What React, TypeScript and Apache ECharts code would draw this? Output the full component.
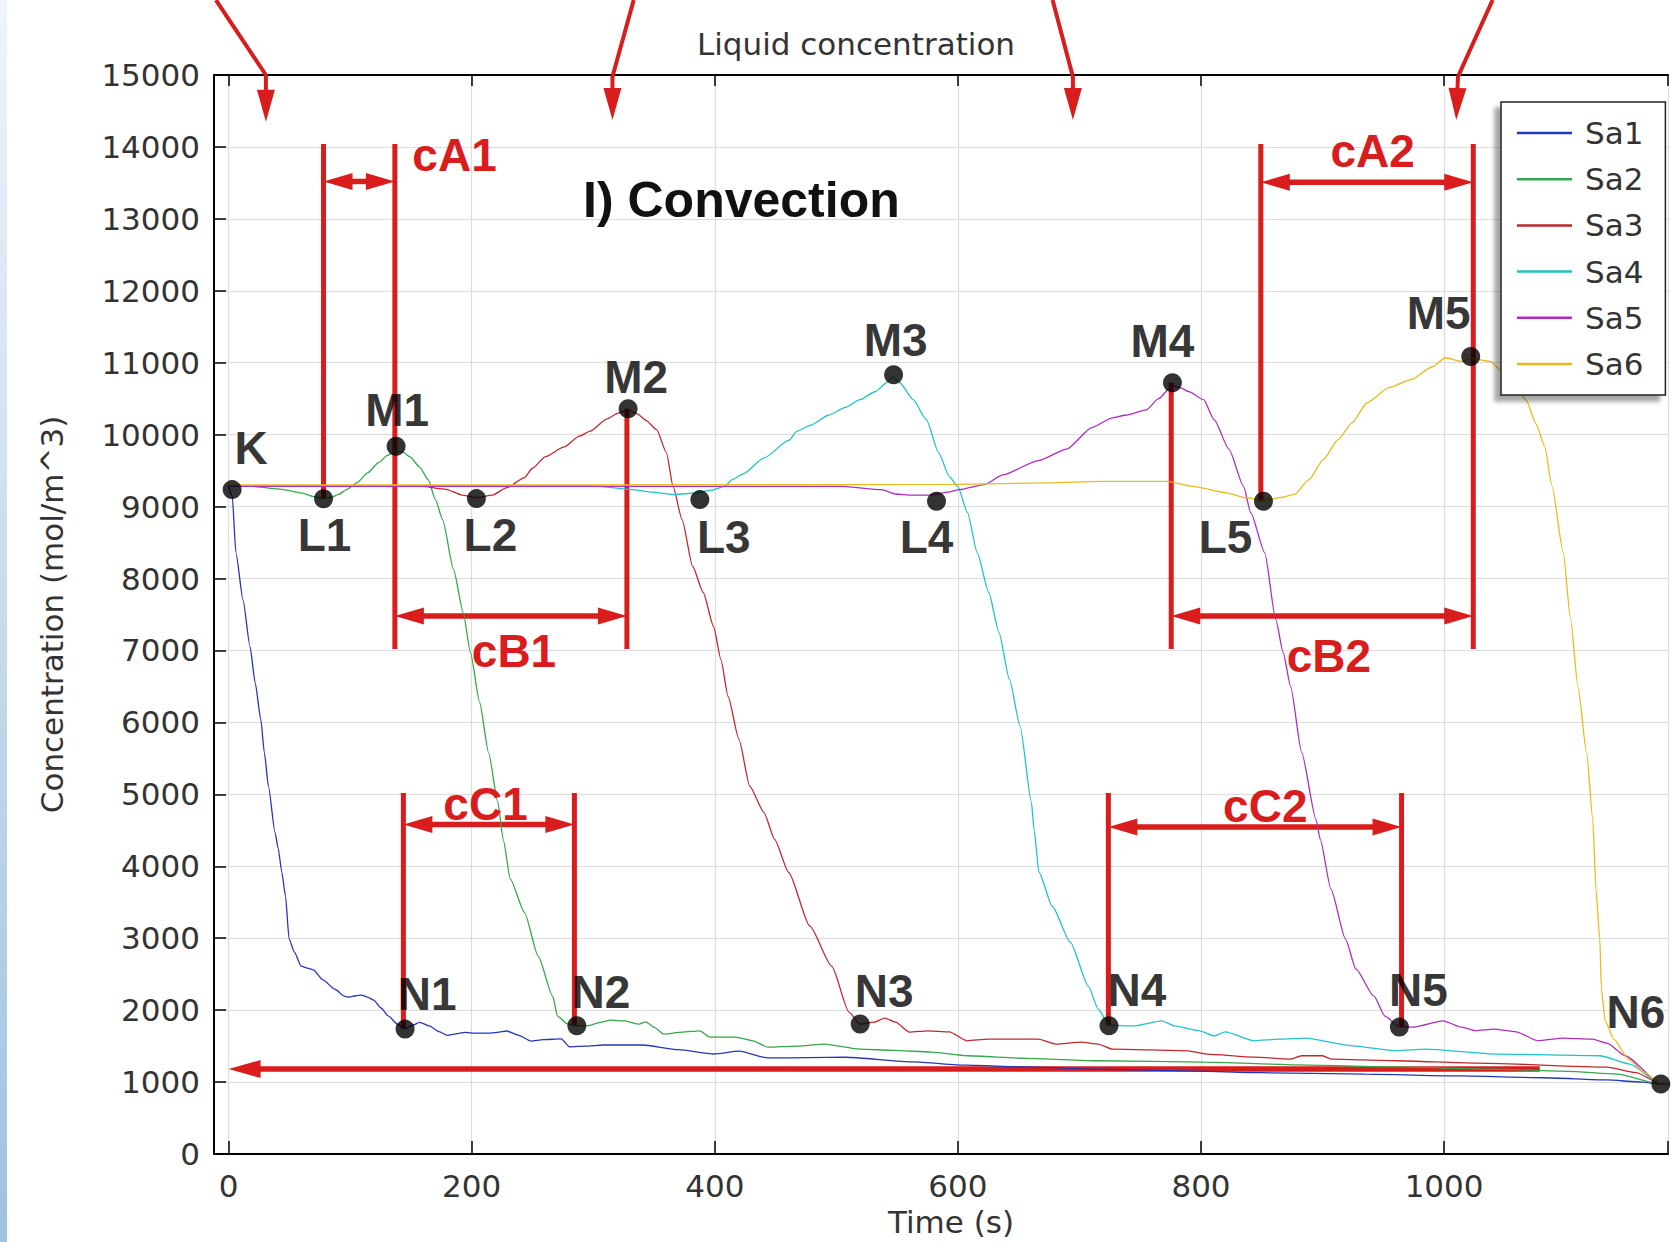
import React, { useEffect, useRef } from 'react';
import * as echarts from 'echarts';

// ---------- data (time s, concentration mol/m^3) ----------
const SERIES_NAMES = ['Sa1', 'Sa2', 'Sa3', 'Sa4', 'Sa5', 'Sa6'];

const SA1 = [
  [0, 9280], [3, 9150], [6, 8361], [11.9, 7700], [17.6, 7056], [21.9, 6550], [26.5, 6042], [29.4, 5583],
  [32.8, 5111], [38.2, 4472], [40.8, 4250], [43.8, 3917], [46.8, 3588], [49.8, 2986], [54.2, 2806], [59.7, 2611],
  [65.7, 2580], [69.7, 2560], [77.6, 2420], [87.6, 2290], [95.5, 2190], [99.5, 2180], [104.5, 2200], [109.5, 2210],
  [114.4, 2180], [119.4, 2140], [125.4, 2030], [131.3, 1920], [139.3, 1800], [145.3, 1740], [151.2, 1790], [157.2, 1830],
  [165.2, 1780], [173.1, 1700], [180.1, 1650], [187.1, 1670], [194, 1690], [204, 1680], [213.9, 1680], [220.9, 1690],
  [228.9, 1710], [238.8, 1650], [248.8, 1570], [258.7, 1590], [273.6, 1600], [280.6, 1490], [293.5, 1500], [308.5, 1515],
  [340.3, 1515], [370.1, 1450], [399, 1390], [419.9, 1430], [443.8, 1335], [477.6, 1340], [507.4, 1345], [563.2, 1280],
  [607, 1235], [656.7, 1210], [715.4, 1180], [777.3, 1160], [848.3, 1130], [934.6, 1110], [1013.7, 1085], [1081.7, 1060],
  [1133.5, 1030], [1162.9, 1000], [1178.1, 972], [1193.4, 950],
];

const SA2 = [
  [0, 9290], [19.9, 9280], [43.8, 9240], [59.7, 9190], [69.7, 9140], [77.6, 9110], [84.6, 9130], [90.5, 9170],
  [97.5, 9240], [105.5, 9330], [114.4, 9470], [123.4, 9610], [130.3, 9710], [137.3, 9770], [143.3, 9760], [149.3, 9690],
  [157.2, 9550], [164.2, 9375], [170.1, 9100], [176.1, 8820], [185.1, 8125], [193, 7530], [199, 6970], [206.5, 6280],
  [213.9, 5580], [221.5, 4890], [225.9, 4375], [231.8, 3820], [243.4, 3360], [254.7, 2750], [266.7, 2190], [270.6, 1917],
  [278.6, 1810], [286.6, 1785], [296.5, 1785], [305.5, 1830], [314, 1860], [326, 1850], [337.8, 1806], [343.3, 1838],
  [350.2, 1760], [358.2, 1667], [373.1, 1694], [387.7, 1713], [396, 1625], [416.9, 1625], [431.4, 1574], [443.4, 1486],
  [467.7, 1500], [490.2, 1528], [519.4, 1458], [547.3, 1440], [578.1, 1417], [607.5, 1366], [656.7, 1330], [715.4, 1296],
  [802.5, 1278], [878.7, 1240], [960, 1210], [1040.7, 1180], [1101.6, 1150], [1142.2, 1110], [1178.1, 972], [1193.4, 945],
];

const SA3 = [
  [0, 9290], [99.5, 9290], [159.2, 9280], [179.1, 9240], [192, 9160], [204, 9125], [216.9, 9160], [228.9, 9264],
  [243.4, 9403], [249.7, 9530], [260.7, 9694], [275.6, 9826], [288.6, 9980], [297.5, 10050], [311.4, 10220], [320.4, 10300],
  [329.3, 10340], [336.3, 10290], [343.3, 10200], [352.2, 10070], [360.2, 9750], [365.7, 9278], [373.1, 8819], [381.8, 8167],
  [390.5, 7806], [399, 7333], [405, 6875], [410.9, 6361], [419.9, 5764], [428.8, 5111], [440.4, 4750], [449.2, 4375],
  [460.7, 3917], [478.2, 3167], [496.2, 2611], [510.4, 1972], [519.4, 1806], [531.3, 1833], [539.8, 1889], [548.7, 1833],
  [560.2, 1694], [575.1, 1713], [593, 1699], [607.5, 1574], [624.9, 1597], [666.2, 1597], [680.6, 1528], [701.5, 1556],
  [715.4, 1528], [727.2, 1458], [789.5, 1435], [804.7, 1389], [844, 1347], [873.7, 1319], [882.8, 1366], [900.1, 1366],
  [906.8, 1319], [960.7, 1296], [1025.9, 1264], [1134, 1208], [1157.8, 1130], [1178.1, 975], [1193.4, 945],
];

const SA4 = [
  [0, 9290], [298.5, 9290], [332.3, 9236], [348.3, 9200], [367.2, 9167], [384.6, 9190], [398, 9230], [408, 9282],
  [414.9, 9382], [422.9, 9450], [440.8, 9678], [460.7, 9920], [467.7, 10048], [478.6, 10130], [493.5, 10270], [507.5, 10380],
  [519.4, 10486], [532.3, 10600], [541.3, 10722], [546.3, 10800], [552.2, 10722], [563.2, 10486], [574.1, 10208], [584.1, 9750],
  [593, 9417], [600, 9278], [607.9, 8917], [615.9, 8361], [625.4, 7806], [633.8, 7250], [642.4, 6597], [651.2, 5944],
  [660.5, 4889], [662.7, 4500], [666.7, 3917], [677.6, 3444], [692.5, 2944], [707.4, 2333], [715.4, 2014], [724.5, 1790],
  [745.3, 1782], [767.7, 1851], [778.3, 1782], [799.1, 1713], [810.8, 1643], [819.9, 1699], [844, 1574], [864.6, 1597],
  [885.9, 1611], [924.4, 1504], [960.7, 1435], [984.3, 1458], [1044.2, 1389], [1128, 1366], [1152.8, 1250], [1178.1, 975],
  [1193.4, 945],
];

const SA5 = [
  [0, 9280], [505, 9280], [537.3, 9236], [548.7, 9175], [562.2, 9160], [578.1, 9160], [592, 9200], [601, 9236],
  [621.9, 9306], [636.8, 9440], [666.2, 9640], [689.5, 9800], [710.4, 10100], [726.5, 10230], [737.7, 10270], [755, 10344],
  [765.1, 10500], [776.3, 10680], [783.4, 10650], [790, 10597], [802.2, 10486], [810.8, 10208], [823, 9800], [835.1, 9278],
  [840.9, 8917], [852.4, 8361], [861.5, 7431], [867.6, 6972], [873.7, 6500], [882.8, 5583], [894.6, 4653], [898.1, 4375],
  [906.9, 3681], [918.9, 2986], [927.5, 2569], [942.3, 2194], [951.4, 1917], [963, 1770], [975.2, 1764], [999.1, 1851],
  [1014.3, 1764], [1025.9, 1713], [1041.1, 1736], [1059.2, 1699], [1077.2, 1574], [1098, 1611], [1122, 1597],
  [1134, 1542], [1149.1, 1366], [1178.1, 975], [1193.4, 945],
];

const SA6 = [
  [0, 9300], [298.5, 9300], [597, 9310], [676.6, 9330], [716.4, 9350], [772.2, 9351], [793.1, 9282], [819.9, 9194],
  [838.2, 9120], [851.4, 9080], [864.6, 9125], [876.7, 9167], [888.9, 9375], [900.6, 9653], [912.8, 9931], [924.4, 10167],
  [936.6, 10444], [954.6, 10653], [972.7, 10764], [990.4, 10944], [1001, 11069], [1014.4, 11018], [1021.9, 11060],
  [1038.1, 11018], [1046.2, 10900], [1056.4, 10750], [1067.5, 10480], [1075.6, 10150], [1082.7, 9840], [1088.8, 9282],
  [1098, 8361], [1104.1, 7431], [1110.1, 6500], [1117.2, 5583], [1122.3, 4653], [1124.9, 3681], [1128.1, 2986],
  [1129.4, 2292], [1132.5, 1851], [1139.6, 1597], [1151.7, 1319], [1164.9, 1130], [1178.1, 975], [1193.4, 945],
];

const SERIES_VALUES = [SA1, SA2, SA3, SA4, SA5, SA6];

const X_TICK_LABELS = [0, 200, 400, 600, 800, 1000];

// marked points
const POINT_NAMES = ['K', 'L1', 'M1', 'L2', 'M2', 'L3', 'M3', 'L4', 'M4', 'L5', 'M5', 'N1', 'N2', 'N3', 'N4', 'N5', 'N6'];
const POINT_VALUES = [
  [2.9, 9236], [78.1, 9110], [137.8, 9838], [203.9, 9111], [328.7, 10360], [387.7, 9097], [547.1, 10833],
  [582.4, 9074], [776.5, 10722], [851.4, 9074], [1021.9, 11088], [145.2, 1736], [286.5, 1782], [519.6, 1806],
  [724.3, 1782], [963.2, 1764], [1178.3, 972],
];

// red measurement brackets: [time, top value, bottom value]
const BRACKET_BARS = [
  [78.1, 14040, 9110], [136.8, 14040, 7020], [327.7, 10360, 7020], [143.8, 5020, 1736], [284.5, 5020, 1782],
  [849.2, 14040, 9074], [1024, 14040, 7020], [775.5, 10722, 7020], [723.8, 5020, 1782], [965, 5020, 1764],
];
// double arrows: [time from, time to, value]
const SPAN_ARROWS = [
  [78.1, 136.8, 13520], [136.8, 327.7, 7480], [143.8, 284.5, 4580],
  [849.2, 1024, 13510], [775.5, 1024, 7480], [723.8, 965, 4545],
];
const SPAN_LABELS = ['cA1', 'cB1', 'cC1', 'cA2', 'cB2', 'cC2'];
const SPAN_LABEL_AT = [[185.9, 13889], [234.8, 6986], [211.4, 4860], [941.2, 13944], [905.2, 6917], [852.9, 4833]];

// inlet arrows at the top: [t0, v0, t1, v1, tipT, tipV]
const INFLOW_ARROWS = [
  [-10.4, 16042, 30.7, 15000, 30.7, 14351],
  [333.3, 16042, 315.8, 14976, 315.8, 14375],
  [677.9, 16042, 694.6, 14976, 694.6, 14375],
  [1039.9, 16042, 1011.4, 14976, 1010, 14375],
];
// long arrow along the bottom: [t from, t tip, value]
const RETURN_ARROW = [[1078.7, 0, 1181]];

const PANEL_LABEL = ['I) Convection'];
const PANEL_LABEL_AT = [[421.9, 13264]];

// ---------- styles ----------
const COLORS = ['#2536b8', '#34a84a', '#c0282d', '#1fc4c8', '#ae2cc0', '#e9bb1a'];
const RED = '#d91c1c';
const SANS = 'DejaVu Sans';
const BOLD = '"Liberation Sans", Arial, sans-serif';
const POINT_LABEL_OFFSETS = [
  [19, -42], [1, 36], [1, -36], [14, 36], [8, -32], [24, 37], [2, -35], [-10, 36], [-10, -42],
  [-38, 36], [-32, -43], [22, -35], [24, -34], [24, -33], [28, -36], [19, -37], [-25, -72],
];

function head(tip: number[], from: number[], len: number, half: number) {
  const dx = tip[0] - from[0];
  const dy = tip[1] - from[1];
  const d = Math.hypot(dx, dy) || 1;
  const ux = dx / d;
  const uy = dy / d;
  const bx = tip[0] - ux * len;
  const by = tip[1] - uy * len;
  return {
    base: [tip[0] - ux * (len - 4), tip[1] - uy * (len - 4)],
    el: {
      type: 'polygon',
      shape: { points: [[tip[0], tip[1]], [bx - uy * half, by + ux * half], [bx + uy * half, by - ux * half]] },
      style: { fill: RED },
    },
  };
}

function textEl(x: number, y: number, text: string, font: string, fill: string) {
  return {
    type: 'text',
    x,
    y,
    style: {
      text,
      fill,
      font,
      align: 'center',
      verticalAlign: 'middle',
      textAlign: 'center',
      textVerticalAlign: 'middle',
    },
  };
}

function buildOption() {
  const axisLineStyle = { color: '#000', width: 2 };
  const tickStyle = { color: '#000', width: 1.5 };
  const splitStyle = { color: '#dcdcdc', width: 1.2 };
  const X_MIN = -12;
  const X_MAX = 1184.2;

  const lineSeries = SERIES_NAMES.map((name, i) => ({
    type: 'line',
    name,
    data: SERIES_VALUES[i],
    color: COLORS[i],
    showSymbol: false,
    symbol: 'none',
    smooth: 0.2,
    smoothMonotone: 'x',
    lineStyle: { color: COLORS[i], width: 1.3 },
    z: 3,
    silent: true,
  }));

  const custom = (data: any[], renderItem: any, z = 2) => ({
    type: 'custom',
    data,
    renderItem,
    clip: false,
    silent: true,
    z,
    encode: { x: 0, y: 1 },
  });

  const bars = custom(BRACKET_BARS, (params: any, api: any) => {
    const a = api.coord([api.value(0), api.value(1)]);
    const b = api.coord([api.value(0), api.value(2)]);
    return { type: 'line', shape: { x1: a[0], y1: a[1], x2: b[0], y2: b[1] }, style: { stroke: RED, lineWidth: 5 } };
  });

  const spans = custom(SPAN_ARROWS, (params: any, api: any) => {
    const a = api.coord([api.value(0), api.value(2)]);
    const b = api.coord([api.value(1), api.value(2)]);
    const ha = head(a, b, 29, 8.5);
    const hb = head(b, a, 29, 8.5);
    return {
      type: 'group',
      children: [
        { type: 'line', shape: { x1: ha.base[0], y1: ha.base[1], x2: hb.base[0], y2: hb.base[1] }, style: { stroke: RED, lineWidth: 5.5 } },
        ha.el,
        hb.el,
      ],
    };
  });

  const inflow = custom(INFLOW_ARROWS, (params: any, api: any) => {
    const p0 = api.coord([api.value(0), api.value(1)]);
    const p1 = api.coord([api.value(2), api.value(3)]);
    const p2 = api.coord([api.value(4), api.value(5)]);
    const h = head(p2, p1, 32, 9);
    return {
      type: 'group',
      children: [
        { type: 'polyline', shape: { points: [p0, p1, h.base] }, style: { stroke: RED, lineWidth: 4, fill: null } },
        h.el,
      ],
    };
  });

  const ret = custom(RETURN_ARROW, (params: any, api: any) => {
    const a = api.coord([api.value(0), api.value(2)]);
    const tip = api.coord([api.value(1), api.value(2)]);
    const h = head(tip, a, 32, 9);
    return {
      type: 'group',
      children: [
        { type: 'line', shape: { x1: a[0], y1: a[1], x2: h.base[0], y2: h.base[1] }, style: { stroke: RED, lineWidth: 5.5 } },
        h.el,
      ],
    };
  });

  const spanTexts = custom(SPAN_LABEL_AT, (params: any, api: any) => {
    const p = api.coord([api.value(0), api.value(1)]);
    return textEl(p[0], p[1], SPAN_LABELS[params.dataIndex], `bold 46px ${BOLD}`, RED);
  }, 4);

  const panelText = custom(PANEL_LABEL_AT, (params: any, api: any) => {
    const p = api.coord([api.value(0), api.value(1)]);
    return textEl(p[0], p[1], PANEL_LABEL[params.dataIndex], `bold 50px ${BOLD}`, '#111');
  }, 4);

  const points = {
    type: 'scatter',
    name: 'points',
    data: POINT_NAMES.map((n, i) => ({ name: n, value: POINT_VALUES[i], label: { offset: POINT_LABEL_OFFSETS[i] } })),
    symbol: 'circle',
    symbolSize: 19,
    itemStyle: { color: '#000' },
    z: 6,
    silent: true,
    label: {
      show: true,
      position: 'inside',
      formatter: '{b}',
      fontFamily: BOLD,
      fontWeight: 'bold',
      fontSize: 46,
      color: '#000',
    },
  };

  return {
    animation: false,
    backgroundColor: '#fff',
    grid: { left: 214, top: 75, right: 0, bottom: 87 },
    legend: {
      data: SERIES_NAMES,
      orient: 'vertical',
      left: 1501,
      top: 102,
      icon: 'rect',
      itemWidth: 55,
      itemHeight: 2.5,
      itemGap: 10.2,
      padding: [13, 22, 13, 16],
      backgroundColor: '#fff',
      borderColor: '#222',
      borderWidth: 1.5,
      shadowColor: 'rgba(0,0,0,0.35)',
      shadowBlur: 4,
      shadowOffsetX: -6,
      shadowOffsetY: 6,
      selectedMode: false,
      itemStyle: { borderWidth: 0 },
      textStyle: { fontFamily: SANS, fontSize: 31, color: '#333', lineHeight: 36, padding: [0, 0, 0, 8] },
    },
    xAxis: [
      {
        type: 'value',
        position: 'bottom',
        min: X_MIN,
        max: X_MAX,
        splitNumber: 6,
        name: 'Time (s)',
        nameLocation: 'middle',
        nameGap: 52,
        nameTextStyle: { fontFamily: SANS, fontSize: 31, color: '#333', padding: [0, 0, 0, 20] },
        axisLine: { show: true, onZero: false, lineStyle: axisLineStyle },
        axisTick: { show: true, inside: true, length: 13, lineStyle: tickStyle },
        axisLabel: {
          margin: 16,
          fontFamily: SANS,
          fontSize: 31,
          color: '#333',
          formatter: (v: number) => (X_TICK_LABELS.indexOf(v) >= 0 ? String(v) : ''),
        },
        splitLine: { show: true, lineStyle: splitStyle },
      },
      {
        type: 'value',
        position: 'top',
        min: X_MIN,
        max: X_MAX,
        splitNumber: 6,
        axisLine: { show: true, onZero: false, lineStyle: axisLineStyle },
        axisTick: { show: true, inside: true, length: 11, lineStyle: tickStyle },
        axisLabel: { show: false },
        splitLine: { show: false },
      },
    ],
    yAxis: {
      type: 'value',
      min: 0,
      max: 15000,
      interval: 1000,
      name: 'Concentration (mol/m^3)',
      nameLocation: 'middle',
      nameGap: 147,
      nameTextStyle: { fontFamily: SANS, fontSize: 31, color: '#333' },
      axisLine: { show: true, onZero: false, lineStyle: axisLineStyle },
      axisTick: { show: true, inside: true, length: 12, lineStyle: tickStyle },
      axisLabel: { margin: 14, fontFamily: SANS, fontSize: 31, color: '#333', formatter: (v: number) => String(v) },
      splitLine: { show: true, lineStyle: splitStyle },
    },
    graphic: [
      {
        type: 'rect',
        x: 0,
        y: 0,
        shape: { x: 0, y: 0, width: 7, height: 1242 },
        style: {
          fill: new echarts.graphic.LinearGradient(0, 0, 0, 1, [
            { offset: 0, color: '#eef4fa' },
            { offset: 1, color: '#9fc2df' },
          ]),
        },
        silent: true,
      },
      {
        type: 'text',
        x: 856,
        y: 44,
        silent: true,
        style: {
          text: 'Liquid concentration',
          fill: '#333',
          font: `31px "${SANS}"`,
          align: 'center',
          verticalAlign: 'middle',
          textAlign: 'center',
          textVerticalAlign: 'middle',
        },
      },
    ],
    series: [bars, spans, inflow, ret, ...lineSeries, spanTexts, panelText, points],
  };
}

export default function App() {
  const ref = useRef<HTMLDivElement>(null);
  useEffect(() => {
    const chart = echarts.init(ref.current as HTMLDivElement, null, { renderer: 'svg' });
    chart.setOption(buildOption() as any);
    return () => chart.dispose();
  }, []);
  return (
    <div
      ref={ref}
      style={{ position: 'absolute', left: 0, top: 0, width: 1671, height: 1242, background: '#fff' }}
    />
  );
}
